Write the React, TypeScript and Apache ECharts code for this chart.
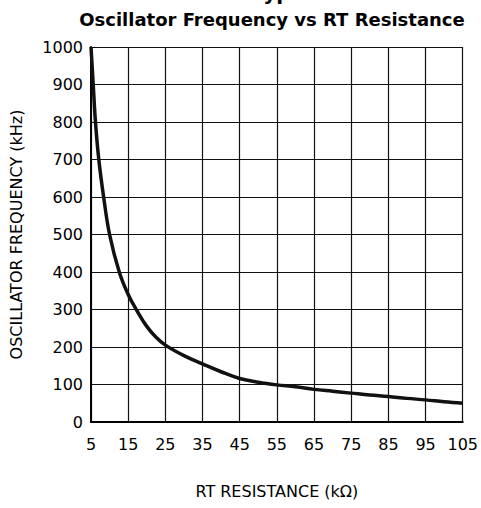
import React, { useEffect, useRef } from "react";
import * as echarts from "echarts";

const resistanceKOhm = [5, 5.6, 6.2, 7.1, 8.4, 10.0, 12.6, 15, 17.3, 20, 22.5, 25, 30, 35, 40, 45, 50, 55, 60, 65, 70, 75, 80, 85, 90, 95, 100, 105];
const frequencyKHz = [1000, 900, 800, 700, 600, 500, 400, 340, 298, 255, 226, 205, 177, 155, 134, 116, 106, 99, 94, 87, 82, 77, 72, 68, 63, 59, 54, 50];

const mainTitle = "Typical Performance Characteristics";
const subTitle = "Oscillator Frequency vs RT Resistance";
const xName = "RT RESISTANCE (kΩ)";
const yName = "OSCILLATOR FREQUENCY (kHz)";

const FONT = "DejaVu Sans";

export default function App() {
  const ref = useRef<HTMLDivElement>(null);
  useEffect(() => {
    if (!ref.current) return;
    const chart = echarts.init(ref.current, null, { renderer: "svg" });
    const data = resistanceKOhm.map((r, i) => [r, frequencyKHz[i]]);
    chart.setOption({
      animation: false,
      backgroundColor: "#ffffff",
      graphic: [
        {
          type: "text",
          left: 252,
          top: -17,
          style: { text: mainTitle, font: `bold 20px "${FONT}"`, fill: "#000" },
        },
        {
          type: "text",
          x: 272,
          y: 19,
          style: {
            text: subTitle,
            font: `bold 18px "${FONT}"`,
            fill: "#000",
            align: "center",
            verticalAlign: "middle",
          },
        },
      ],
      grid: { left: 91, right: 15, top: 47, bottom: 86, containLabel: false },
      xAxis: {
        type: "value",
        min: 5,
        max: 105,
        interval: 10,
        name: xName,
        nameLocation: "middle",
        nameGap: 61,
        nameTextStyle: { fontFamily: FONT, fontSize: 16, color: "#000" },
        axisLine: { show: true, onZero: false, lineStyle: { color: "#000", width: 2 } },
        axisTick: { show: false },
        axisLabel: { fontFamily: FONT, fontSize: 16, color: "#000", margin: 14, formatter: (v: number) => String(v) },
        splitLine: { show: true, lineStyle: { color: "#111", width: 1.2 } },
      },
      yAxis: {
        type: "value",
        min: 0,
        max: 1000,
        interval: 100,
        name: yName,
        nameLocation: "middle",
        nameGap: 67,
        nameTextStyle: { fontFamily: FONT, fontSize: 16, color: "#000" },
        axisLine: { show: true, lineStyle: { color: "#000", width: 2 } },
        axisTick: { show: false },
        axisLabel: { fontFamily: FONT, fontSize: 16, color: "#000", margin: 8, formatter: (v: number) => String(v) },
        splitLine: { show: true, lineStyle: { color: "#111", width: 1.2 } },
      },
      series: [
        {
          type: "line",
          data,
          smooth: 0.4,
          showSymbol: false,
          lineStyle: { color: "#111", width: 3.5 },
        },
      ],
    });
    return () => chart.dispose();
  }, []);
  return <div ref={ref} style={{ width: 481, height: 508, position: "absolute", left: 0, top: 0 }} />;
}
